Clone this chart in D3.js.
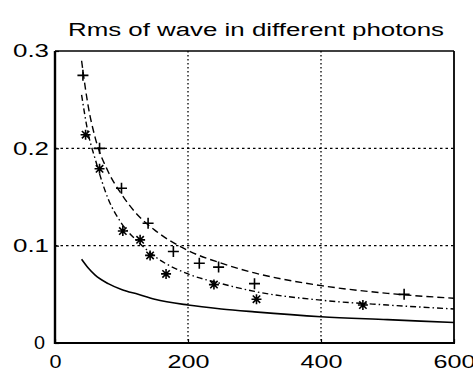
<!DOCTYPE html>
<html>
<head>
<meta charset="utf-8">
<script src="https://cdn.jsdelivr.net/npm/d3@7"></script>
<style>
  body { margin: 0; background: #fff; }
  text { font-family: "Liberation Sans", Arial, sans-serif; fill: #000; }
</style>
</head>
<body>
<div class="canva"></div>
<script>
const curveX = [40, 50, 60, 80, 100, 125, 150, 200, 250, 300, 400, 500, 600];
// dashed curve (goes with the "+" markers)
const dashedY = [0.29, 0.243, 0.212, 0.176, 0.153, 0.131, 0.116, 0.095, 0.082, 0.072, 0.059, 0.051, 0.046];
// dash-dot curve (goes with the "*" markers)
const dashDotY = [0.255, 0.215, 0.19, 0.148, 0.123, 0.104, 0.089, 0.071, 0.061, 0.053, 0.044, 0.039, 0.035];
// solid curve
const solidY = [0.086, 0.077, 0.07, 0.061, 0.055, 0.05, 0.045, 0.039, 0.035, 0.032, 0.027, 0.024, 0.021];

// "+" markers
const plusX = [42, 67, 100, 140, 178, 217, 246, 300, 525];
const plusY = [0.275, 0.2, 0.159, 0.123, 0.094, 0.082, 0.078, 0.061, 0.05];
// "*" markers
const starX = [46, 67, 102, 128, 143, 167, 239, 303, 463];
const starY = [0.214, 0.179, 0.115, 0.106, 0.09, 0.071, 0.06, 0.045, 0.039];

const xTicks = [0, 200, 400, 600];
const yTicks = [0, 0.1, 0.2, 0.3];
const yTickLabels = ["0", "0.1", "0.2", "0.3"];
const title = "Rms of wave in different photons";

const W = 473, H = 374;
const pLeft = 55, pRight = 454, pTop = 51, pBottom = 343;

const svg = d3.select(".canva").append("svg")
  .attr("width", W)
  .attr("height", H);

const x = d3.scaleLinear().domain([0, 600]).range([pLeft, pRight]);
const y = d3.scaleLinear().domain([0, 0.3]).range([pBottom, pTop]);

// grid (dotted)
svg.append("g").selectAll("line")
  .data(xTicks.filter(d => d > 0 && d < 600))
  .enter().append("line")
  .attr("x1", d => x(d)).attr("x2", d => x(d))
  .attr("y1", pTop).attr("y2", pBottom)
  .attr("stroke", "#000").attr("stroke-width", 1.3)
  .attr("stroke-dasharray", "1.5,2.5");
svg.append("g").selectAll("line")
  .data(yTicks.filter(d => d > 0 && d < 0.3))
  .enter().append("line")
  .attr("x1", pLeft).attr("x2", pRight)
  .attr("y1", d => y(d)).attr("y2", d => y(d))
  .attr("stroke", "#000").attr("stroke-width", 1.3)
  .attr("stroke-dasharray", "2.5,3");

// axes
const xAxis = svg.append("g")
  .attr("transform", `translate(0,${pBottom})`)
  .call(d3.axisBottom(x).tickValues(xTicks).tickSize(-4).tickFormat(d3.format("d")));
xAxis.select(".domain").remove();
xAxis.selectAll("line").attr("stroke-width", 1.2);
xAxis.selectAll("text")
  .attr("y", 25).attr("dy", null)
  .attr("font-size", 18)
  .attr("textLength", d => d === 0 ? 12 : 42)
  .attr("lengthAdjust", "spacingAndGlyphs");

const yAxis = svg.append("g")
  .attr("transform", `translate(${pLeft},0)`)
  .call(d3.axisLeft(y).tickValues(yTicks).tickSize(-4).tickFormat((d, i) => yTickLabels[i]));
yAxis.select(".domain").remove();
yAxis.selectAll("line").attr("stroke-width", 1.2);
yAxis.selectAll("text")
  .attr("x", (d, i) => i === 0 ? -10 : -6)
  .attr("font-size", 18)
  .attr("textLength", (d, i) => i === 0 ? 11 : 36)
  .attr("lengthAdjust", "spacingAndGlyphs");

// frame
svg.append("line").attr("x1", pLeft).attr("x2", pRight).attr("y1", pTop).attr("y2", pTop)
  .attr("stroke", "#000").attr("stroke-width", 1.4);
svg.append("line").attr("x1", pRight).attr("x2", pRight).attr("y1", pTop).attr("y2", pBottom)
  .attr("stroke", "#000").attr("stroke-width", 1.8);
svg.append("line").attr("x1", pLeft).attr("x2", pLeft).attr("y1", pTop).attr("y2", pBottom + 1)
  .attr("stroke", "#000").attr("stroke-width", 2.4);
svg.append("line").attr("x1", pLeft).attr("x2", pRight + 1).attr("y1", pBottom).attr("y2", pBottom)
  .attr("stroke", "#000").attr("stroke-width", 2);

// curves
const line = d3.line()
  .x(d => x(d[0]))
  .y(d => y(d[1]))
  .curve(d3.curveMonotoneX);

const curves = [
  { vals: dashedY, dash: "7,4", w: 1.4 },
  { vals: dashDotY, dash: "6,3,1.5,3", w: 1.4 },
  { vals: solidY, dash: null, w: 1.6 }
];
svg.append("g").selectAll("path")
  .data(curves)
  .enter().append("path")
  .attr("d", c => line(curveX.map((v, i) => [v, c.vals[i]])))
  .attr("fill", "none")
  .attr("stroke", "#000")
  .attr("stroke-width", c => c.w)
  .attr("stroke-dasharray", c => c.dash);

// "+" markers
const plusPts = plusX.map((v, i) => [v, plusY[i]]);
svg.append("g").selectAll("path")
  .data(plusPts)
  .enter().append("path")
  .attr("d", d => {
    const cx = x(d[0]), cy = y(d[1]), r = 5.5;
    return `M${cx - r},${cy}H${cx + r}M${cx},${cy - r}V${cy + r}`;
  })
  .attr("stroke", "#000").attr("stroke-width", 1.6).attr("fill", "none");

// "*" markers
const starPts = starX.map((v, i) => [v, starY[i]]);
svg.append("g").selectAll("path")
  .data(starPts)
  .enter().append("path")
  .attr("d", d => {
    const cx = x(d[0]), cy = y(d[1]), r = 5, q = 3.7;
    return `M${cx - r},${cy}H${cx + r}M${cx},${cy - r}V${cy + r}` +
      `M${cx - q},${cy - q}L${cx + q},${cy + q}M${cx - q},${cy + q}L${cx + q},${cy - q}`;
  })
  .attr("stroke", "#000").attr("stroke-width", 1.6).attr("fill", "none");

// title
svg.append("text")
  .attr("x", 256).attr("y", 36)
  .attr("text-anchor", "middle")
  .attr("font-size", 18)
  .attr("textLength", 376)
  .attr("lengthAdjust", "spacingAndGlyphs")
  .text(title);
</script>
</body>
</html>
